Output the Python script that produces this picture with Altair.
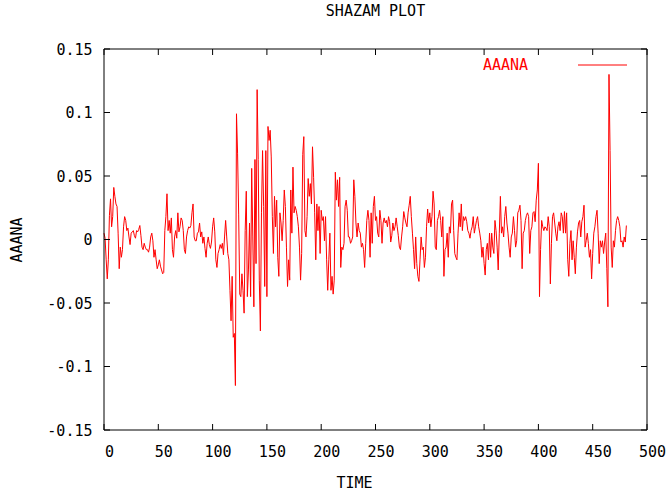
import altair as alt
import pandas as pd

chart_title = "SHAZAM PLOT"
x_title = "TIME"
y_title = "AAANA"
series_name = "AAANA"
x_ticks = [0, 50, 100, 150, 200, 250, 300, 350, 400, 450, 500]
y_ticks = [-0.15, -0.1, -0.05, 0, 0.05, 0.1, 0.15]

aaana_000 = [
    0.005, 0.001, -0.016, -0.031, -0.016, 0.019, 0.032, 0.010, 0.018, 0.041,
    0.034, 0.028, 0.026, 0.005, -0.023, -0.006, -0.014, -0.008, 0.010, 0.018,
    0.015, 0.007, 0.009, 0.002, -0.004, 0.005, 0.006, 0.007, 0.003, 0.001,
    0.007, 0.006, 0.008, 0.011, 0.003, -0.006, -0.008, -0.003, -0.006, -0.008,
    -0.008, -0.010, -0.006, 0.002, 0.005, -0.001, -0.014, -0.008, -0.016, -0.023,
    -0.020, -0.016, -0.021, -0.024, -0.027, -0.026, 0.007, 0.018, 0.036, 0.007,
    0.015, 0.005, 0.017, -0.008, -0.014, 0.002, 0.007, 0.001, 0.021, 0.006,
    0.010, 0.017, 0.015, 0.007, -0.008, -0.011, 0.002, 0.007, 0.010, 0.009,
    0.011, 0.021, 0.028, 0.002, -0.001, -0.001, 0.005, 0.006, 0.013, 0.002,
    0.006, -0.003, 0.002, -0.007, -0.014, -0.003, 0.002, -0.004, -0.007, -0.002,
]
aaana_100 = [
    0.010, 0.017, 0.006, -0.016, -0.022, -0.011, -0.008, -0.004, -0.007, -0.003,
    -0.012, 0.002, 0.015, 0.002, -0.011, -0.016, -0.040, -0.064, -0.029, -0.077,
    -0.074, -0.115, 0.099, 0.068, 0.020, -0.043, -0.045, -0.027, -0.040, -0.058,
    0.007, 0.038, -0.045, -0.024, 0.013, -0.045, 0.056, 0.002, -0.053, 0.063,
    -0.019, 0.118, 0.063, -0.032, -0.072, 0.021, 0.070, 0.026, -0.037, 0.070,
    -0.045, 0.089, 0.078, 0.086, 0.065, 0.018, -0.011, 0.034, 0.010, 0.031,
    -0.014, -0.029, 0.021, 0.013, -0.001, 0.015, 0.039, 0.026, -0.006, -0.037,
    -0.016, -0.032, 0.039, 0.005, 0.057, 0.021, 0.026, 0.023, 0.018, 0.010,
    -0.006, -0.032, -0.011, 0.067, 0.081, 0.007, 0.002, 0.018, 0.048, 0.034,
    0.044, 0.028, 0.073, 0.049, 0.021, -0.016, 0.028, 0.007, 0.026, -0.011,
]
aaana_200 = [
    0.023, 0.015, 0.018, -0.001, 0.018, -0.016, -0.040, -0.016, 0.005, -0.040,
    -0.029, -0.043, -0.032, 0.053, 0.031, 0.047, 0.026, 0.049, -0.022, -0.006,
    -0.008, -0.003, 0.026, 0.031, 0.023, 0.002, 0.002, -0.003, -0.001, 0.002,
    0.047, 0.034, 0.013, 0.002, 0.013, 0.007, 0.005, -0.006, -0.003, -0.008,
    -0.022, -0.003, 0.015, 0.023, 0.015, -0.014, 0.021, -0.003, 0.026, 0.034,
    0.015, 0.018, 0.005, 0.002, 0.023, 0.015, -0.003, 0.013, 0.017, 0.013,
    0.015, 0.010, 0.018, 0.014, -0.002, 0.003, 0.013, 0.007, 0.010, 0.017,
    0.010, 0.003, -0.006, -0.008, 0.002, 0.010, 0.022, 0.017, 0.013, 0.010,
    0.021, 0.027, 0.034, 0.018, 0.005, -0.008, -0.023, 0.002, -0.019, -0.029,
    -0.033, -0.016, 0.002, -0.008, -0.006, -0.022, -0.014, 0.010, 0.024, 0.013,
]
aaana_300 = [
    0.021, 0.010, 0.018, 0.038, 0.028, -0.006, -0.008, 0.015, 0.018, 0.023,
    0.015, 0.002, 0.018, -0.029, -0.008, -0.006, 0.005, -0.014, 0.010, 0.005,
    0.028, 0.031, 0.007, -0.011, -0.014, -0.016, 0.005, 0.021, 0.010, 0.028,
    0.007, 0.018, 0.015, 0.018, 0.014, 0.007, 0.005, 0.001, 0.007, 0.010,
    0.018, 0.005, 0.010, 0.015, 0.018, 0.010, 0.005, -0.001, -0.014, -0.006,
    -0.019, -0.028, -0.008, -0.003, -0.016, 0.005, -0.014, 0.005, -0.006, -0.011,
    0.015, 0.007, -0.006, -0.024, 0.005, 0.034, 0.005, 0.010, 0.002, 0.018,
    0.026, 0.013, 0.005, -0.006, -0.014, 0.002, 0.005, 0.018, 0.007, -0.006,
    -0.001, 0.021, 0.023, 0.027, 0.015, -0.023, 0.005, 0.007, 0.015, 0.019,
    0.021, 0.018, -0.011, 0.007, 0.010, 0.021, 0.022, 0.014, 0.031, 0.039,
]
aaana_400 = [
    0.060, -0.045, -0.008, 0.015, 0.010, 0.007, 0.010, 0.009, 0.007, 0.018,
    0.010, -0.035, -0.003, 0.018, 0.021, 0.013, 0.005, -0.001, 0.010, 0.014,
    0.007, 0.021, 0.018, 0.005, 0.022, 0.005, 0.021, -0.016, -0.029, -0.003,
    0.007, -0.016, -0.001, -0.014, -0.027, -0.006, 0.006, 0.013, 0.015, 0.002,
    0.014, 0.018, 0.027, -0.006, -0.001, 0.005, -0.003, -0.014, -0.008, -0.031,
    -0.011, 0.005, 0.010, 0.018, 0.023, 0.005, -0.019, -0.001, -0.006, -0.001,
    -0.011, -0.002, 0.005, -0.023, -0.053, 0.130, 0.070, -0.006, -0.022, -0.001,
    -0.006, 0.007, 0.015, 0.018, 0.015, 0.010, -0.002, -0.001, -0.006, 0.002,
    -0.002, 0.011,
]

values = aaana_000 + aaana_100 + aaana_200 + aaana_300 + aaana_400
df = pd.DataFrame({"TIME": list(range(len(values))), "AAANA": values})

W, H = 543, 381
FONT = "DejaVu Sans Mono"
FS = 15
RED = "#ff0000"
TICK = 6

xs = alt.Scale(domain=[0, 500], nice=False, zero=False)
ys = alt.Scale(domain=[-0.15, 0.15], nice=False, zero=False)

x_axis = alt.Axis(
    values=x_ticks, title=x_title, ticks=False, tickSize=0, domain=False, grid=False,
    labelPadding=14, labelOffset=5, labelFlush=False, labelOverlap=False,
    labelFont=FONT, labelFontSize=FS, labelColor="black",
    titleFont=FONT, titleFontSize=FS, titleFontWeight="normal", titleColor="black",
    titleX=250, titleY=52, titleBaseline="middle", titleAlign="center")
y_axis = alt.Axis(
    values=y_ticks, title=y_title, ticks=False, tickSize=0, domain=False, grid=False,
    labelPadding=12, labelFlush=False, labelOverlap=False,
    labelExpr="toString(datum.value)",
    labelFont=FONT, labelFontSize=FS, labelColor="black",
    titleFont=FONT, titleFontSize=FS, titleFontWeight="normal", titleColor="black",
    titleX=-88, titleY=190.5, titleAngle=270, titleBaseline="middle", titleAlign="center")

line = alt.Chart(df).mark_line(color=RED, strokeWidth=1).encode(
    x=alt.X("TIME:Q", scale=xs, axis=x_axis),
    y=alt.Y("AAANA:Q", scale=ys, axis=y_axis),
)

xt = pd.DataFrame({"TIME": x_ticks})
yt = pd.DataFrame({"AAANA": y_ticks})

bottom_ticks = alt.Chart(xt).mark_rule(color="black", strokeWidth=1).encode(
    x=alt.X("TIME:Q", scale=xs, axis=x_axis), y=alt.value(H), y2=alt.value(H - TICK))
top_ticks = alt.Chart(xt).mark_rule(color="black", strokeWidth=1).encode(
    x=alt.X("TIME:Q", scale=xs, axis=x_axis), y=alt.value(0), y2=alt.value(TICK))
left_ticks = alt.Chart(yt).mark_rule(color="black", strokeWidth=1).encode(
    y=alt.Y("AAANA:Q", scale=ys, axis=y_axis), x=alt.value(0), x2=alt.value(TICK))
right_ticks = alt.Chart(yt).mark_rule(color="black", strokeWidth=1).encode(
    y=alt.Y("AAANA:Q", scale=ys, axis=y_axis), x=alt.value(W - TICK), x2=alt.value(W))

leg = pd.DataFrame({"label": [series_name]})
legend_text = alt.Chart(leg).mark_text(
    align="left", baseline="middle", font=FONT, fontSize=FS, color=RED
).encode(x=alt.value(379), y=alt.value(16), text="label:N")
legend_line = alt.Chart(leg).mark_rule(color=RED, strokeWidth=1).encode(
    x=alt.value(474), x2=alt.value(523), y=alt.value(16))

# plot frame drawn as crisp rules
border_base = alt.Chart(leg).mark_rule(color="black", strokeWidth=1)
border_left = border_base.encode(x=alt.value(0), y=alt.value(0), y2=alt.value(H))
border_right = border_base.encode(x=alt.value(W), y=alt.value(0), y2=alt.value(H))
border_top = border_base.encode(y=alt.value(0), x=alt.value(0), x2=alt.value(W))
border_bottom = border_base.encode(y=alt.value(H), x=alt.value(0), x2=alt.value(W))

chart = alt.layer(
    line, bottom_ticks, top_ticks, left_ticks, right_ticks,
    border_left, border_right, border_top, border_bottom,
    legend_text, legend_line
).properties(
    width=W, height=H,
    background="white",
    title=alt.TitleParams(chart_title, font=FONT, fontSize=FS, fontWeight="normal",
                          color="black", anchor="middle", frame="group",
                          offset=11, baseline="alphabetic"),
    padding={"left": 104, "top": 49, "right": 22, "bottom": 65},
    autosize=alt.AutoSizeParams(type="none"),
).configure_view(strokeWidth=0)

chart.save("out.html", embed_options={"renderer": "svg", "actions": False})
